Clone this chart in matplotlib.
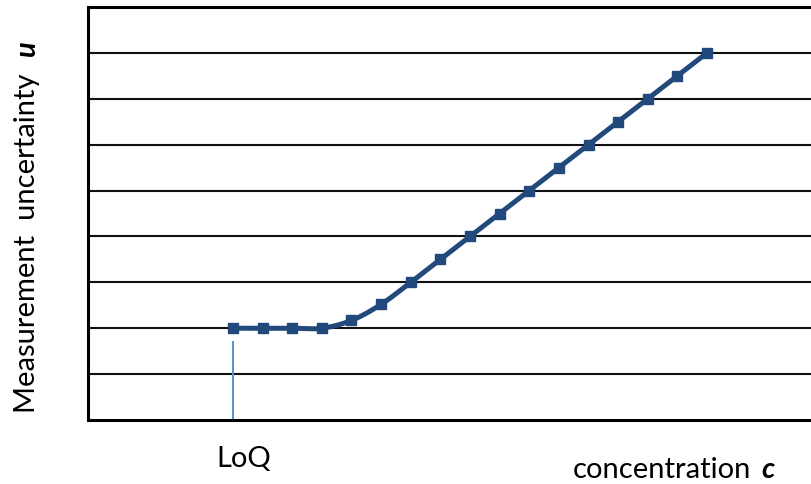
import numpy as np
import matplotlib
matplotlib.use("Agg")
import matplotlib.pyplot as plt

# data
conc_index = list(range(17))
uncertainty = [2.0, 2.0, 2.0, 2.0, 2.17, 2.52, 3.0, 3.5, 4.0, 4.5, 5.0, 5.5, 6.0, 6.5, 7.0, 7.5, 8.0]
loq_index = 0
loq_label = "LoQ"
x_label = "concentration"
x_sym = "c"
y_label = "Measurement  uncertainty"
y_sym = "u"

FONT = "Lato"
plt.rcParams['font.family'] = [FONT, 'DejaVu Sans']

W, H = 811, 485
fig = plt.figure(figsize=(W/100, H/100), dpi=100)
ax = fig.add_axes([88/W, 1-421/H, 1-88/W, (421-8)/H])

def catmull_rom(x, y, n=20):
    x = np.asarray(x, float); y = np.asarray(y, float)
    px = np.concatenate([[2*x[0]-x[1]], x, [2*x[-1]-x[-2]]])
    py = np.concatenate([[2*y[0]-y[1]], y, [2*y[-1]-y[-2]]])
    xs, ys = [], []
    t = np.linspace(0, 1, n, endpoint=False)
    for i in range(1, len(px)-2):
        p0, p1, p2, p3 = [np.array([px[j], py[j]]) for j in (i-1, i, i+1, i+2)]
        m1 = (p2 - p0) / 2
        m2 = (p3 - p1) / 2
        h00 = 2*t**3 - 3*t**2 + 1; h10 = t**3 - 2*t**2 + t
        h01 = -2*t**3 + 3*t**2; h11 = t**3 - t**2
        pts = np.outer(h00, p1) + np.outer(h10, m1) + np.outer(h01, p2) + np.outer(h11, m2)
        xs.extend(pts[:, 0]); ys.extend(pts[:, 1])
    xs.append(x[-1]); ys.append(y[-1])
    return np.array(xs), np.array(ys)

sx, sy = catmull_rom(conc_index, uncertainty)
col = "#22497C"
ax.plot(sx, sy, color=col, lw=3.6, solid_capstyle='round', zorder=3)
ax.plot(conc_index, uncertainty, ls='none', marker='s', ms=7, color=col, zorder=4)

ax.set_xlim(-4.894, 19.51)
ax.set_ylim(0, 9)
ax.set_yticks(range(1, 9))
ax.yaxis.grid(True, color='#111111', lw=1.5)
ax.set_axisbelow(True)
ax.tick_params(left=False, bottom=False, labelleft=False, labelbottom=False)
ax.set_xticks([])
for s in ['left', 'bottom', 'top']:
    ax.spines[s].set_linewidth(2.2)
    ax.spines[s].set_color('black')
ax.spines['right'].set_visible(False)

# LoQ line
ax.plot([loq_index, loq_index], [0, 1.7], color="#5B8FC9", lw=1.4, zorder=2)

fs = 21
fig.text(244/W, 1-467/H, loq_label, ha='center', va='baseline', fontsize=fs)
fig.text(751/W, 1-478/H, x_label, ha='right', va='baseline', fontsize=fs)
fig.text(761/W, 1-478/H, x_sym, ha='left', va='baseline', fontsize=fs, fontweight='bold', fontstyle='italic')
fig.text(35/W, 1-243/H, y_label, ha='center', va='baseline', rotation=90,
         rotation_mode='anchor', fontsize=fs)
fig.text(35/W, 1-49/H, y_sym, ha='center', va='baseline', rotation=90,
         rotation_mode='anchor', fontsize=fs, fontweight='bold', fontstyle='italic')

fig.savefig("out.png", dpi=100)
